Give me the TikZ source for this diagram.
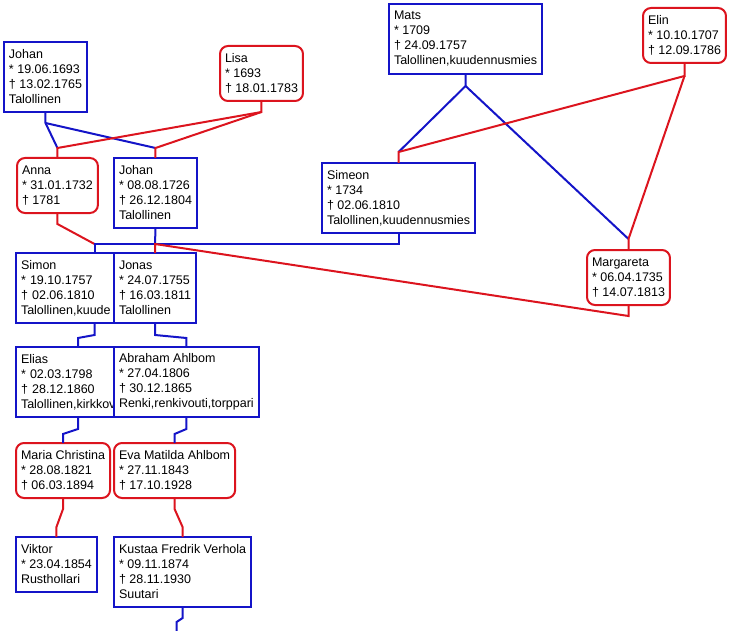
\documentclass[tikz,border=0pt]{standalone}
\usepackage{fontspec}
\setmainfont{Liberation Sans}
\usetikzlibrary{calc}
\definecolor{isaBlue}{RGB}{20,20,200}
\definecolor{aitiRed}{RGB}{220,20,30}

\begin{document}
\begin{tikzpicture}[
  x=1pt, y=-1pt,
  font=\fontsize{12.5}{15}\selectfont,
  henkilo/.style={
    rectangle,
    fill=white,
    anchor=north west,
    align=left,
    inner xsep=5pt,
    inner ysep=0pt,
    outer sep=0pt,
    line width=2pt,
  },
  mies/.style={henkilo, draw=isaBlue, minimum height=70pt},
  nainen/.style={henkilo, draw=aitiRed, rounded corners=8pt, minimum height=55pt},
  isa/.style={isaBlue, line width=2pt},
  aiti/.style={aitiRed, line width=2pt},
]
  \useasboundingbox (0,0) rectangle (746,631);

  % isovanhemmat
  \node[mies] (johanA) at (4,42) {Johan\\{*} 19.06.1693\\† 13.02.1765\\Talollinen};
  \node[nainen] (lisa) at (220,46) {Lisa\\{*} 1693\\† 18.01.1783};
  \node[mies] (mats) at (389,4) {Mats\\{*} 1709\\† 24.09.1757\\Talollinen,kuudennusmies};
  \node[nainen] (elin) at (643,8) {Elin\\{*} 10.10.1707\\† 12.09.1786};

  % vanhemmat
  \node[nainen] (anna) at (17,158) {Anna\\{*} 31.01.1732\\† 1781};
  \node[mies] (johanB) at (114,158) {Johan\\{*} 08.08.1726\\† 26.12.1804\\Talollinen};
  \node[mies] (simeon) at (322,163) {Simeon\\{*} 1734\\† 02.06.1810\\Talollinen,kuudennusmies};
  \node[nainen] (margareta) at (587,250) {Margareta\\{*} 06.04.1735\\† 14.07.1813};

  % lapset
  \node[mies, text width=147pt] (simon) at (16,253) {Simon\\{*} 19.10.1757\\† 02.06.1810\\Talollinen,kuude};
  \node[mies] (jonas) at (114,253) {Jonas\\{*} 24.07.1755\\† 16.03.1811\\Talollinen};
  \node[mies, text width=114pt] (elias) at (16,347) {Elias\\{*} 02.03.1798\\† 28.12.1860\\Talollinen,kirkkov};
  \node[mies] (abraham) at (114,347) {Abraham Ahlbom\\{*} 27.04.1806\\† 30.12.1865\\Renki,renkivouti,torppari};
  \node[nainen] (maria) at (16,443) {Maria Christina\\{*} 28.08.1821\\† 06.03.1894};
  \node[nainen] (eva) at (114,443) {Eva Matilda Ahlbom\\{*} 27.11.1843\\† 17.10.1928};
  \node[mies, minimum height=55pt] (viktor) at (16,537) {Viktor\\{*} 23.04.1854\\Rusthollari};
  \node[mies] (kustaa) at (114,537) {Kustaa Fredrik Verhola\\{*} 09.11.1874\\† 28.11.1930\\Suutari};

  % Johan ja Lisa
  \coordinate (an) at ($(anna.north)+(0,-10)$);
  \coordinate (jb) at ($(johanB.north)+(0,-10)$);
  \draw[isa] (johanA.south) -- ++(0,11) coordinate (jA) -- (an);
  \draw[isa] (jA) -- (jb);
  \draw[aiti] (lisa.south) -- ++(0,11) coordinate (lA) -- (an) -- (anna.north);
  \draw[aiti] (lA) -- (jb) -- (johanB.north);

  % Mats ja Elin
  \coordinate (si) at ($(simeon.north)+(0,-11)$);
  \coordinate (ma) at ($(margareta.north)+(0,-11)$);
  \draw[isa] (mats.south) -- ++(0,12) coordinate (mA) -- (si);
  \draw[isa] (mA) -- (ma);
  \draw[aiti] (elin.south) -- ++(0,13) coordinate (eA) -- (si) -- (simeon.north);
  \draw[aiti] (eA) -- (ma) -- (margareta.north);

  % Simon ja Jonas
  \coordinate (sB) at ($(simeon.south)+(0,11)$);
  \draw[aiti] (anna.south) -- ++(0,11) -- (simon.north |- sB);
  \draw[isa] (simeon.south) -- (sB) -| (simon.north);
  \draw[isa] (johanB.south) -- (jonas.north |- sB);
  \draw[aiti] (margareta.south) -- ++(0,11) -- (jonas.north |- sB) -- (jonas.north);

  % alemmat polvet
  \draw[isa] (simon.south) -- ++(0,12) -- ($(elias.north)+(0,-9)$) -- (elias.north);
  \draw[isa] (jonas.south) -- ++(0,12) -- ($(abraham.north)+(0,-9)$) -- (abraham.north);
  \draw[isa] (elias.south) -- ++(0,12) -- ($(maria.north)+(0,-9)$) -- (maria.north);
  \draw[isa] (abraham.south) -- ++(0,12) -- ($(eva.north)+(0,-9)$) -- (eva.north);
  \draw[aiti] (maria.south) -- ++(0,11) -- ($(viktor.north)+(0,-10)$) -- (viktor.north);
  \draw[aiti] (eva.south) -- ++(0,11) -- ($(kustaa.north)+(0,-10)$) -- (kustaa.north);
  \coordinate (jatko) at ($(kustaa.south)+(-6,24)$);
  \draw[isa] (kustaa.south) -- ++(0,11) -- ($(jatko)+(0,-9)$) -- (jatko);

\end{tikzpicture}
\end{document}
